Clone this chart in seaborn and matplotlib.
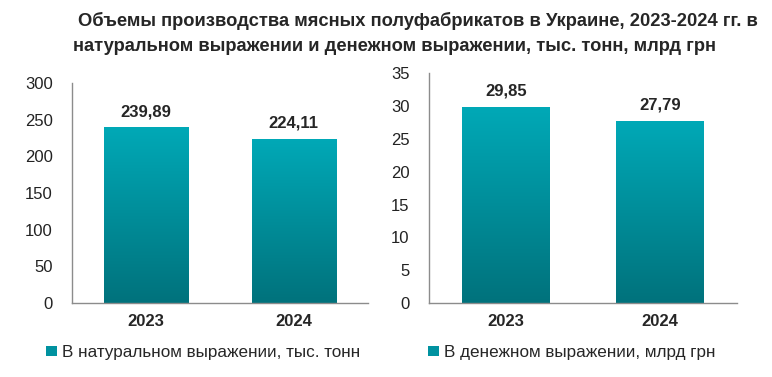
import numpy as np
import pandas as pd
import matplotlib
matplotlib.use('Agg')
import matplotlib.pyplot as plt
from matplotlib.colors import LinearSegmentedColormap
from matplotlib.patches import Patch
import seaborn as sns

sns.set_style('white')
plt.rcParams['font.family'] = ['Liberation Sans', 'DejaVu Sans']

years = ['2023', '2024']
volume_kt = [239.89, 224.11]
value_bn = [29.85, 27.79]
title_lines = ['Объемы производства мясных полуфабрикатов в Украине, 2023-2024 гг. в',
               'натуральном выражении и денежном выражении, тыс. тонн, млрд грн']
legend_left = 'В натуральном выражении, тыс. тонн'
legend_right = 'В денежном выражении, млрд грн'

top_c = '#00A9B7'
bot_c = '#00727C'
cmap = LinearSegmentedColormap.from_list('teal', [bot_c, top_c])
grad = np.linspace(0, 1, 256).reshape(-1, 1)

fig = plt.figure(figsize=(7.72, 3.77), dpi=100)
ax1 = fig.add_axes([0.0933, 0.196, 0.383, 0.584])
ax2 = fig.add_axes([0.5557, 0.196, 0.399, 0.610])


def draw(ax, vals, ymax, step):
    df = pd.DataFrame({'year': years, 'val': vals})
    sns.barplot(data=df, x='year', y='val', ax=ax, color=top_c, width=0.57,
                saturation=1)
    ax.set_xlim(-0.5, 1.5)
    ax.set_ylim(0, ymax)
    for p in ax.patches:
        x0, y0 = p.get_x(), p.get_y()
        w, h = p.get_width(), p.get_height()
        im = ax.imshow(grad, cmap=cmap, origin='lower', aspect='auto',
                       extent=[x0, x0 + w, y0, y0 + h], zorder=p.get_zorder() + 0.1)
        im.set_clip_path(p)
        ax.text(x0 + w / 2, h + ymax * 0.035, f'{h:.2f}'.replace('.', ','),
                ha='center', va='bottom', fontsize=12, fontweight='bold')
    ax.set_yticks(np.arange(0, ymax + 0.1, step))
    ax.set_xlabel('')
    ax.set_ylabel('')
    for s in ['top', 'right']:
        ax.spines[s].set_visible(False)
    for s in ['left', 'bottom']:
        ax.spines[s].set_color('#8c8c8c')
        ax.spines[s].set_linewidth(1)
    ax.tick_params(axis='y', labelsize=12, length=0, pad=14, labelcolor='#222222')
    ax.tick_params(axis='x', labelsize=12, length=0, pad=8)
    for t in ax.get_xticklabels():
        t.set_fontweight('bold')


draw(ax1, volume_kt, 300, 50)
draw(ax2, value_bn, 35, 5)

# title: two lines, each centred where it sits in the original
fig.text(0.541, 0.945, title_lines[0], ha='center', va='center', fontsize=13.2,
         fontweight='bold')
fig.text(0.511, 0.877, title_lines[1], ha='center', va='center', fontsize=13.2,
         fontweight='bold')

for x, lab in [(0.06, legend_left), (0.555, legend_right)]:
    fig.legend(handles=[Patch(facecolor='#0092A0', edgecolor='none')], labels=[lab],
               loc='center left', bbox_to_anchor=(x, 0.065), frameon=False,
               handlelength=0.6, handleheight=0.6, handletextpad=0.3, fontsize=12.3,
               borderpad=0, borderaxespad=0)

fig.savefig('out.png', dpi=100)
